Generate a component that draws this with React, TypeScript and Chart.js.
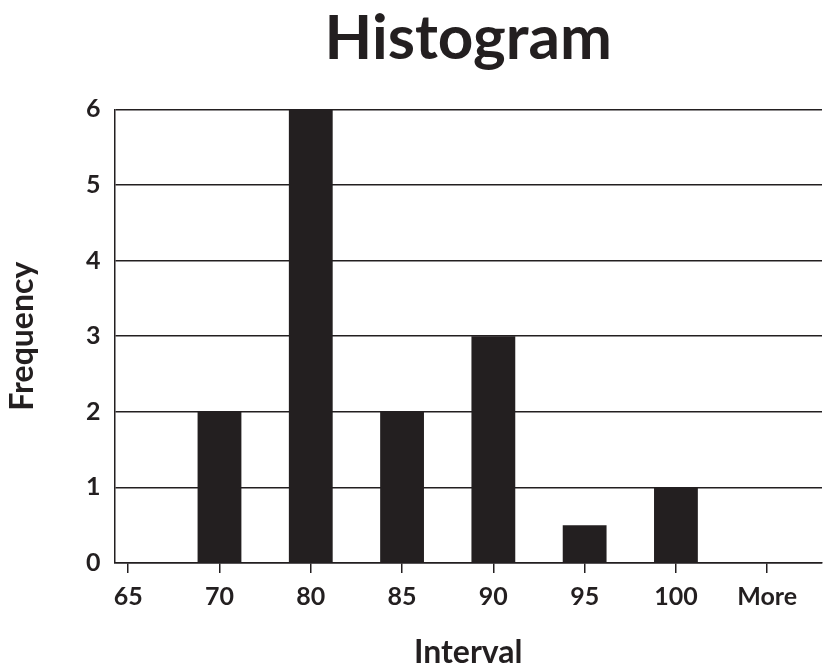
import { useEffect, useRef } from "react";
import { Chart, registerables } from "chart.js";

Chart.register(...registerables);

const intervalLabels = ["65", "70", "80", "85", "90", "95", "100", "More"];
const frequencies = [0, 2, 6, 2, 3, 0.5, 1, 0];
const chartTitle = "Histogram";
const xTitle = "Interval";
const yTitle = "Frequency";

const FONT = "Lato, 'Open Sans', sans-serif";
const INK = "#231f20";

export default function App() {
  const ref = useRef<HTMLCanvasElement | null>(null);

  useEffect(() => {
    document.body.style.margin = "0";
    const canvas = ref.current;
    if (!canvas) return;
    const chart = new Chart(canvas, {
      type: "bar",
      data: {
        datasets: [
          {
            data: intervalLabels.map((_, i) => ({ x: i, y: frequencies[i] })),
            backgroundColor: INK,
            borderWidth: 0,
            barPercentage: 0.48,
            categoryPercentage: 1,
          },
        ],
      },
      options: {
        animation: false,
        responsive: false,
        maintainAspectRatio: false,
        layout: { padding: { left: 7, right: 1, top: 0, bottom: 0 } },
        plugins: {
          legend: { display: false },
          tooltip: { enabled: false },
          title: {
            display: true,
            text: chartTitle,
            fullSize: false,
            color: INK,
            font: { family: FONT, size: 62, weight: "bold" },
            padding: { top: 2, bottom: 33 },
          },
        },
        scales: {
          x: {
            type: "linear",
            min: -0.15,
            max: 7.6,
            offset: false,
            afterBuildTicks: (axis: any) => {
              axis.ticks = intervalLabels.map((_, i) => ({ value: i }));
            },
            ticks: {
              autoSkip: false,
              maxRotation: 0,
              color: INK,
              padding: 9,
              font: { family: FONT, size: 25, weight: "bold" },
              callback: (v: any) => intervalLabels[Math.round(Number(v))] ?? "",
            },
            grid: {
              display: true,
              offset: false,
              drawOnChartArea: false,
              drawTicks: true,
              tickLength: 10,
              color: INK,
              lineWidth: 1.5,
            },
            border: { display: true, color: INK, width: 1.5 },
            title: {
              display: true,
              text: xTitle,
              color: INK,
              font: { family: FONT, size: 32, weight: "bold", lineHeight: 1.0 },
              padding: { top: 16, bottom: 0 },
            },
          },
          y: {
            min: 0,
            max: 6,
            ticks: {
              stepSize: 1,
              color: INK,
              padding: 14,
              font: { family: FONT, size: 25, weight: "bold" },
            },
            grid: {
              color: INK,
              lineWidth: 1.5,
              drawTicks: false,
            },
            border: { display: true, color: INK, width: 1.5 },
            title: {
              display: true,
              text: yTitle,
              color: INK,
              font: { family: FONT, size: 32, weight: "bold", lineHeight: 1.0 },
              padding: { top: 0, bottom: 33 },
            },
          },
        },
      },
    } as any);
    return () => chart.destroy();
  }, []);

  return (
    <div style={{ width: 823, height: 669, background: "#fff" }}>
      <canvas ref={ref} width={823} height={669} style={{ width: 823, height: 669, display: "block" }} />
    </div>
  );
}
